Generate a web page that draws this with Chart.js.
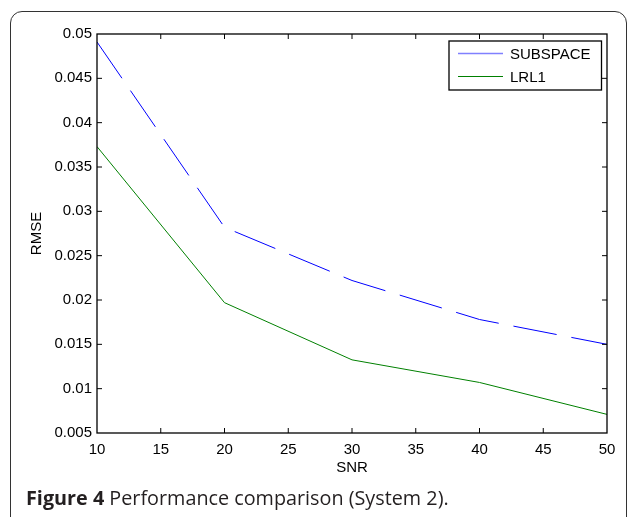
<!DOCTYPE html>
<html>
<head>
<meta charset="utf-8">
<script src="https://cdn.jsdelivr.net/npm/chart.js@4.4.0/dist/chart.umd.min.js"></script>
<style>
  html, body { margin: 0; padding: 0; background: #fff; width: 629px; height: 517px; overflow: hidden; }
  #frame { position: absolute; left: 10px; top: 11px; width: 617px; height: 600px; box-sizing: border-box;
           border: 1.5px solid #333; border-radius: 12px; }
  #wrap { position: absolute; left: 0; top: 0; width: 629px; height: 517px; }
  #caption { position: absolute; left: 26px; top: 488px; font-family: "Open Sans", sans-serif; font-size: 19.8px;
             line-height: 19.8px; color: #231f20; white-space: nowrap; }
  #caption b { font-weight: 700; }
</style>
</head>
<body>
<div id="frame"></div>
<div id="wrap"><canvas id="c" width="629" height="517"></canvas></div>
<div id="caption"><b>Figure 4</b> Performance comparison (System 2).</div>
<script>
const snr = [10, 20, 30, 40, 50];
const subspace = [0.0491, 0.0282, 0.0222, 0.0178, 0.0150];
const lrl1 = [0.0373, 0.0197, 0.01325, 0.0107, 0.0071];
const xTicks = [10, 15, 20, 25, 30, 35, 40, 45, 50];
const yTicks = [0.005, 0.01, 0.015, 0.02, 0.025, 0.03, 0.035, 0.04, 0.045, 0.05];
const seriesNames = ['SUBSPACE', 'LRL1'];

const AXIS_FONT = { family: '"Liberation Sans", Arial, sans-serif', size: 15 };

const boxPlugin = {
  id: 'matlabBox',
  afterDatasetsDraw(chart) {
    const { ctx, chartArea: a, scales } = chart;
    ctx.save();
    ctx.strokeStyle = '#000';
    ctx.lineWidth = 1.3;
    ctx.strokeRect(a.left, a.top, a.right - a.left, a.bottom - a.top);
    ctx.lineWidth = 1;
    const tl = 5;
    ctx.beginPath();
    scales.x.ticks.forEach(t => {
      const px = scales.x.getPixelForValue(t.value);
      if (Math.abs(px - a.left) < 1 || Math.abs(px - a.right) < 1) return;
      ctx.moveTo(px, a.bottom); ctx.lineTo(px, a.bottom - tl);
      ctx.moveTo(px, a.top); ctx.lineTo(px, a.top + tl);
    });
    scales.y.ticks.forEach(t => {
      const py = scales.y.getPixelForValue(t.value);
      if (Math.abs(py - a.top) < 1 || Math.abs(py - a.bottom) < 1) return;
      ctx.moveTo(a.left, py); ctx.lineTo(a.left + tl, py);
      ctx.moveTo(a.right, py); ctx.lineTo(a.right - tl, py);
    });
    ctx.stroke();

    // legend box (north-east)
    const bx = 449, by = 41, bw = 152.5, bh = 49;
    ctx.fillStyle = '#fff';
    ctx.fillRect(bx, by, bw, bh);
    ctx.lineWidth = 1.3;
    ctx.strokeStyle = '#000';
    ctx.strokeRect(bx, by, bw, bh);
    ctx.font = '15px "Liberation Sans", Arial, sans-serif';
    ctx.textBaseline = 'middle';
    ctx.textAlign = 'left';
    chart.data.datasets.forEach((ds, i) => {
      const y = by + 12.5 + i * 23;
      ctx.beginPath();
      ctx.strokeStyle = i === 0 ? '#8080ff' : ds.borderColor;
      ctx.lineWidth = i === 0 ? 1.6 : 1.2;
      ctx.setLineDash([]);
      ctx.moveTo(bx + 9, y); ctx.lineTo(bx + 54, y);
      ctx.stroke();
      ctx.fillStyle = '#000';
      ctx.fillText(ds.label, bx + 61, y + 1);
    });
    ctx.restore();
  }
};

new Chart(document.getElementById('c'), {
  type: 'line',
  data: {
    datasets: [
      { label: seriesNames[0], data: snr.map((x, i) => ({ x, y: subspace[i] })), borderColor: '#0000ff',
        borderWidth: 1, borderDash: [44, 15], pointRadius: 0, tension: 0, fill: false },
      { label: seriesNames[1], data: snr.map((x, i) => ({ x, y: lrl1[i] })), borderColor: '#008000',
        borderWidth: 1, pointRadius: 0, tension: 0, fill: false }
    ]
  },
  options: {
    responsive: false,
    animation: false,
    devicePixelRatio: 1,
    layout: { padding: { left: 28, top: 34, right: 22, bottom: 40 } },
    plugins: { legend: { display: false }, tooltip: { enabled: false } },
    scales: {
      x: {
        type: 'linear', min: 10, max: 50,
        afterBuildTicks: s => { s.ticks = xTicks.map(v => ({ value: v })); },
        afterFit: s => { s.height = 44; },
        grid: { display: false, drawTicks: false }, border: { display: false },
        ticks: { font: AXIS_FONT, color: '#000', padding: 8, maxRotation: 0, autoSkip: false },
        title: { display: true, text: 'SNR', font: AXIS_FONT, color: '#000', padding: 0 }
      },
      y: {
        type: 'linear', min: 0.005, max: 0.05,
        afterBuildTicks: s => { s.ticks = yTicks.map(v => ({ value: v })); },
        afterFit: s => { s.width = 69; },
        grid: { display: false, drawTicks: false }, border: { display: false },
        ticks: { font: AXIS_FONT, color: '#000', padding: 5, autoSkip: false,
                 callback: v => parseFloat(Number(v).toFixed(4)).toString() },
        title: { display: true, text: 'RMSE', font: AXIS_FONT, color: '#000', padding: 0 }
      }
    }
  },
  plugins: [boxPlugin]
});
</script>
</body>
</html>
